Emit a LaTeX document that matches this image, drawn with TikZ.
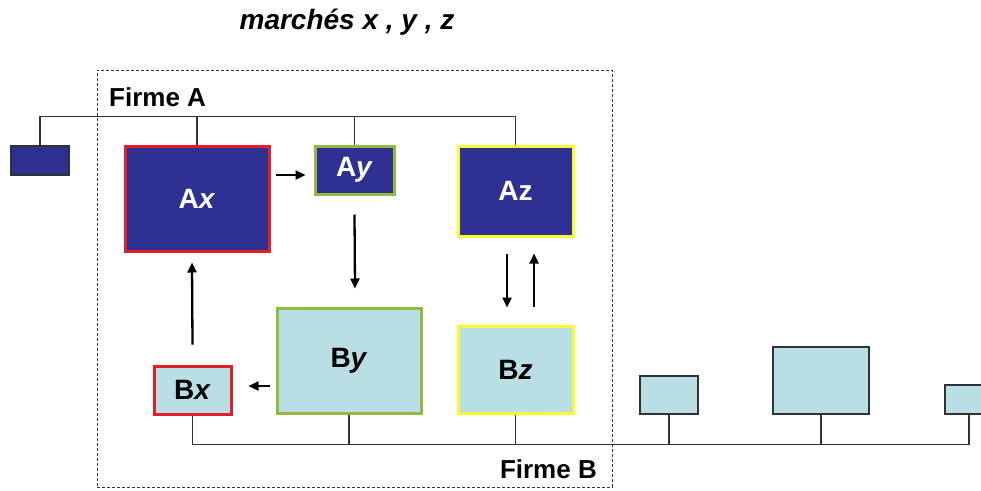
\documentclass[tikz,border=0pt]{standalone}
\usepackage{fontspec}
\setmainfont{Liberation Sans}
\usetikzlibrary{arrows.meta,calc}
\definecolor{navy}{RGB}{46,49,146}
\definecolor{lblue}{RGB}{185,222,228}
\definecolor{bred}{RGB}{228,30,40}
\definecolor{bgreen}{RGB}{146,186,60}
\definecolor{byellow}{RGB}{250,250,50}
\definecolor{dgray}{RGB}{50,50,50}
\tikzset{
  box/.style={rectangle, inner sep=0pt, font=\fontsize{28}{32}\selectfont\bfseries},
  abox/.style={box, fill=navy, text=white, line width=3pt},
  bbox/.style={box, fill=lblue, text=black, line width=3pt},
  plain/.style={rectangle, inner sep=0pt, draw=dgray, line width=1.2pt},
  conn/.style={draw=dgray, line width=1.1pt},
  arr/.style={line width=2.3pt, -{Triangle[length=10pt,width=9pt]}},
  lbl/.style={font=\fontsize{26}{30}\selectfont\bfseries, inner sep=0pt}
}
\begin{document}
\begin{tikzpicture}[x=1pt,y=-1pt]
\clip (0,0) rectangle (981,490);
\fill[white] (0,0) rectangle (981,490);
% title
\node[font=\fontsize{28}{32}\selectfont\bfseries\itshape, inner sep=0pt] (title) at (347,22) {marchés x , y , z};
% firm A frame
\node[draw=dgray, dash pattern=on 3pt off 2pt, line width=0.9pt, minimum width=515, minimum height=417, inner sep=0pt] (frame) at (354.5,278.5) {};
\node[lbl, anchor=west] (fa) at (109,97) {Firme A};
\node[lbl, anchor=east] (fb) at (597,469) {Firme B};
% A boxes
\node[abox, draw=bred, minimum width=144, minimum height=105] (Ax) at (197,198.5) {A\textit{x}};
\node[abox, draw=bgreen, minimum width=79, minimum height=48] (Ay) at (354.5,170) {A\textit{y}};
\node[abox, draw=byellow, minimum width=115, minimum height=90] (Az) at (515.5,191) {Az};
\node[plain, fill=navy, minimum width=58, minimum height=29] (L) at (40,160.5) {};
% B boxes
\node[bbox, draw=bgreen, minimum width=144, minimum height=105] (By) at (349,360.5) {B\textit{y}};
\node[bbox, draw=byellow, minimum width=115, minimum height=87] (Bz) at (515.5,369.5) {B\textit{z}};
\node[bbox, draw=bred, minimum width=77, minimum height=48] (Bx) at (192.5,390) {B\textit{x}};
\node[plain, fill=lblue, minimum width=58, minimum height=38] (R1) at (669,395) {};
\node[plain, fill=lblue, minimum width=96, minimum height=67] (R2) at (821,380.5) {};
\node[plain, fill=lblue, minimum width=48, minimum height=29] (R3) at (969,399.5) {};
% top connectors
\coordinate (topR) at ($(Az.north)+(0,-28)$);
\draw[conn] (L.north) |- (topR);
\draw[conn] (Ax.north) -- (Ax.north |- topR);
\draw[conn] (Ay.north) -- (Ay.north |- topR);
\draw[conn] (Az.north) -- (topR);
% bottom connectors
\coordinate (botR) at ($(R3.south)+(0,30)$);
\draw[conn] (Bx.south) |- (botR);
\draw[conn] (By.south) -- (By.south |- botR);
\draw[conn] (Bz.south) -- (Bz.south |- botR);
\draw[conn] (R1.south) -- (R1.south |- botR);
\draw[conn] (R2.south) -- (R2.south |- botR);
\draw[conn] (R3.south) -- (botR);
% arrows
\draw[arr] ($(Ay.west)+(-38,5)$) -- ($(Ay.west)+(-8,5)$);
\draw[arr] ($(Ay.south)+(0,19)$) -- ($(By.north)+(6,-18)$);
\draw[arr] ($(Az.south)+(-8.5,16)$) -- ($(Bz.north)+(-8.5,-17)$);
\draw[arr] ($(Bz.north)+(18.5,-18)$) -- ($(Az.south)+(18.5,16)$);
\draw[arr] ($(Bx.east)+(37,-4)$) -- ($(Bx.east)+(16,-4)$);
\draw[arr] ($(Bx.north)+(0,-20)$) -- ($(Ax.south)+(-5,10)$);
\end{tikzpicture}
\end{document}
